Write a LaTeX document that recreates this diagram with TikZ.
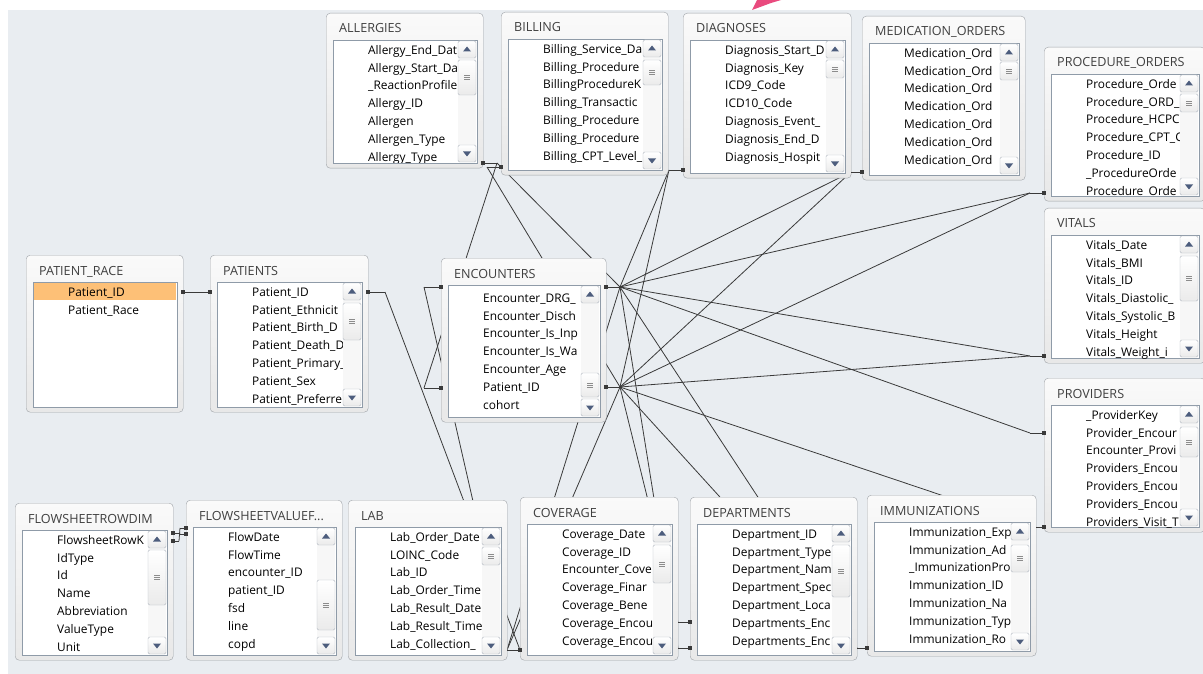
\documentclass[tikz,border=0pt]{standalone}
\usepackage{fontspec}
\setmainfont{Open Sans}
\usetikzlibrary{calc}

\definecolor{canvas}{HTML}{E9EDF1}
\definecolor{frameline}{HTML}{9FA3A8}
\definecolor{listline}{HTML}{8F9BA8}
\definecolor{relline}{HTML}{3A3A3A}
\definecolor{btnline}{HTML}{B3B9C2}
\definecolor{arrowfill}{HTML}{4D5D7D}
\definecolor{pickrow}{HTML}{FDC077}
\definecolor{titletext}{HTML}{404040}
\definecolor{marker}{HTML}{E94A7E}

\tikzset{
  tframe/.style={draw=frameline, rounded corners=4pt, top color=black!2, bottom color=black!9, inner sep=0pt},
  ttitle/.style={text=titletext, font=\fontsize{12.6}{14}\selectfont, inner sep=0pt},
  tfield/.style={text=black, font=\fontsize{11.9}{13}\selectfont, inner sep=0pt},
  tlist/.style={draw=listline, fill=white},
  sbbtn/.style={draw=btnline, rounded corners=1.5pt, top color=white, bottom color=black!8},
  rel/.style={draw=relline, line width=0.8pt},
}

\newcommand{\rowstart}{10}
% table: name, x, y, width, height, title, fields, thumb top, thumb bottom
\newcommand{\dbtable}[9]{%
  \node[tframe, minimum width=#4pt, minimum height=#5pt, anchor=north west] (#1) at (#2,#3) {};
  \node[ttitle, anchor=base west] (#1-title) at (#2+13,#3+20) {#6};
  \coordinate (#1-nw) at (#2+7,#3+27);
  \coordinate (#1-ne) at (#2+#4-6,#3+27);
  \coordinate (#1-se) at (#2+#4-6,#3+#5-5);
  \draw[tlist] (#1-nw) rectangle (#1-se);
  \begin{scope}
    \clip (#1-nw) rectangle ($(#1-se)+(-20,0)$);
    \foreach \f [count=\i from 0] in {#7}{
      \node[tfield, anchor=base west] (#1-f\i) at ($(#1-nw)+(35,\rowstart+4.3+17.8*\i)$) {\f};
    }
  \end{scope}
  \fill[black!3] ($(#1-ne)+(-19,1)$) rectangle ($(#1-se)+(-1,-1)$);
  \draw[sbbtn] ($(#1-ne)+(-19,1)$) rectangle ($(#1-ne)+(-1,18)$);
  \draw[sbbtn] ($(#1-se)+(-19,-18)$) rectangle ($(#1-se)+(-1,-1)$);
  \fill[arrowfill] ($(#1-ne)+(-14,11.5)$) -- ++(8,0) -- ++(-4,-5) -- cycle;
  \fill[arrowfill] ($(#1-se)+(-14,-11.5)$) -- ++(8,0) -- ++(-4,5) -- cycle;
  \draw[sbbtn] ($(#1-ne)+(-19,#8)$) rectangle ($(#1-ne)+(-1,#9)$);
  \foreach \d in {-2,0,2}{
    \draw[black!45, line width=0.5pt] ($(#1-ne)+(-13,{(#8+#9)/2+\d})$) -- ++(6,0);
  }
}
% relationship pin: name, edge x, edge y, stub length
\newcommand{\relpin}[4]{%
  \coordinate (#1-e) at (#2,#3);
  \coordinate (#1) at (#2+#4,#3);
}
\newcommand{\relstub}[1]{%
  \draw[rel] (#1-e) -- (#1);
  \fill[relline] ($(#1-e)+(-1.6,-1.6)$) rectangle ++(3.2,3.2);
}

\begin{document}
\begin{tikzpicture}[x=1pt, y=-1pt]
  \useasboundingbox (0,0) rectangle (1203,674);
  \fill[white] (0,0) rectangle (1203,674);
  \fill[canvas] (8,10) rectangle (1203,674);
  \fill[marker] (752,10) -- (757,0) -- (781,0) -- (771,3) -- cycle;

  % pins
  \relpin{pr-r}{183}{292}{13}
  \relpin{pa-l}{210}{292}{-14}
  \relpin{pa-r}{368}{292}{17}
  \relpin{al-r}{483}{163}{14}
  \relpin{bi-l}{501}{167}{-14}
  \relpin{di-l}{683}{170}{-14}
  \relpin{me-l}{862}{172}{-11}
  \relpin{po-l}{1044}{193}{-14}
  \relpin{vi-l}{1044}{356}{-14}
  \relpin{pv-l1}{1044}{433}{-14}
  \relpin{pv-l2}{1044}{527}{-8}
  \relpin{en-l1}{441}{287}{-17}
  \relpin{en-l2}{441}{388}{-17}
  \relpin{en-r1}{606}{287}{14}
  \relpin{en-r2}{606}{387}{14}
  \relpin{co-l}{520}{650}{-13}
  \relpin{de-l1}{690}{622}{-12}
  \relpin{de-l2}{690}{648}{-12}
  \relpin{im-l}{867}{648}{-10}
  \relpin{fv-l1}{186}{528}{-6}
  \relpin{fv-l2}{186}{534}{-6}
  \relpin{fr-r1}{173}{533}{6}
  \relpin{fr-r2}{173}{541}{6}

  % relationships
  \draw[rel] (pr-r) -- (pa-l);
  \draw[rel] (pa-r) -- (co-l-e);
  \draw[rel] (al-r) -- (en-l2);
  \draw[rel] (al-r) -- (en-r1);
  \draw[rel] (bi-l) -- (en-r2);
  \draw[rel] (en-l1) -- (co-l);
  \foreach \p in {di-l,me-l,po-l,vi-l,im-l,co-l}{
    \draw[rel] (\p) -- (en-r1);
    \draw[rel] (\p) -- (en-r2);
  }
  \draw[rel] (pv-l1) -- (en-r1);
  \draw[rel] (pv-l2) -- (en-r2);
  \draw[rel] (de-l1) -- (en-r2);
  \draw[rel] (de-l2) -- (en-r1);
  \draw[rel] (fr-r1) -- (fv-l2);
  \draw[rel] (fr-r2) -- (fv-l1);

  % tables
  \dbtable{allergies}{326}{13}{157}{155}{ALLERGIES}{Allergy\_End\_Dat,Allergy\_Start\_Da,\_ReactionProfile,Allergy\_ID,Allergen,Allergen\_Type,Allergy\_Type}{20}{55}
  \dbtable{billing}{501}{12}{167}{163}{BILLING}{Billing\_Service\_Da,Billing\_Procedure,BillingProcedureK,Billing\_Transactic,Billing\_Procedure,Billing\_Procedure,Billing\_CPT\_Level\_}{21}{46}
  \dbtable{diagnoses}{683}{13}{168}{165}{DIAGNOSES}{Diagnosis\_Start\_D,Diagnosis\_Key,ICD9\_Code,ICD10\_Code,Diagnosis\_Event\_,Diagnosis\_End\_D,Diagnosis\_Hospit}{20}{38}
  \dbtable{medorders}{862}{16}{163}{164}{MEDICATION\_ORDERS}{Medication\_Ord,Medication\_Ord,Medication\_Ord,Medication\_Ord,Medication\_Ord,Medication\_Ord,Medication\_Ord}{19}{37}
  \dbtable{procorders}{1044}{47}{161}{154}{PROCEDURE\_ORDERS}{Procedure\_Orde,Procedure\_ORD\_,Procedure\_HCPC,Procedure\_CPT\_C,Procedure\_ID,\_ProcedureOrde,Procedure\_Orde}{20}{38}
  \dbtable{vitals}{1044}{208}{161}{155}{VITALS}{Vitals\_Date,Vitals\_BMI,Vitals\_ID,Vitals\_Diastolic\_,Vitals\_Systolic\_B,Vitals\_Height,Vitals\_Weight\_i}{21}{66}
  \dbtable{providers}{1044}{378}{161}{154}{PROVIDERS}{\_ProviderKey,Provider\_Encour,Encounter\_Provi,Providers\_Encou,Providers\_Encou,Providers\_Encou,Providers\_Visit\_T}{22}{52}
  \dbtable{patients}{210}{255}{158}{157}{PATIENTS}{Patient\_ID,Patient\_Ethnicit,Patient\_Birth\_D,Patient\_Death\_D,Patient\_Primary\_,Patient\_Sex,Patient\_Preferre}{21}{58}
  \begin{scope}
    \renewcommand{\rowstart}{13}
    \dbtable{encounters}{441}{258}{165}{164}{ENCOUNTERS}{Encounter\_DRG\_,Encounter\_Disch,Encounter\_Is\_Inp,Encounter\_Is\_Wa,Encounter\_Age,Patient\_ID,cohort}{88}{112}
  \end{scope}
  \dbtable{flowrow}{15}{503}{158}{157}{FLOWSHEETROWDIM}{FlowsheetRowK,IdType,Id,Name,Abbreviation,ValueType,Unit}{20}{75}
  \dbtable{flowval}{186}{500}{156}{160}{FLOWSHEETVALUEF...}{FlowDate,FlowTime,encounter\_ID,patient\_ID,fsd,line,copd}{53}{103}
  \dbtable{lab}{348}{500}{159}{160}{LAB}{Lab\_Order\_Date,LOINC\_Code,Lab\_ID,Lab\_Order\_Time,Lab\_Result\_Date,Lab\_Result\_Time,Lab\_Collection\_}{20}{38}
  \dbtable{coverage}{520}{497}{158}{163}{COVERAGE}{Coverage\_Date,Coverage\_ID,Encounter\_Cove,Coverage\_Finar,Coverage\_Bene,Coverage\_Encou,Coverage\_Encou}{21}{59}
  \dbtable{departments}{690}{497}{167}{163}{DEPARTMENTS}{Department\_ID,Department\_Type,Department\_Nam,Department\_Spec,Department\_Loca,Departments\_Enc,Departments\_Enc}{21}{73}
  \dbtable{immunizations}{867}{495}{169}{161}{IMMUNIZATIONS}{Immunization\_Exp,Immunization\_Ad,\_ImmunizationPro,Immunization\_ID,Immunization\_Na,Immunization\_Typ,Immunization\_Ro}{23}{50}

  % patient race, no scrollbar
  \node[tframe, minimum width=157pt, minimum height=157pt, anchor=north west] (patrace) at (26,255) {};
  \node[ttitle, anchor=base west] (patrace-title) at (39,275) {PATIENT\_RACE};
  \draw[tlist] (33,282) rectangle (177,407);
  \fill[pickrow] (34,283) rectangle (176,300);
  \node[tfield, anchor=base west] (patrace-f0) at (68,296.3) {Patient\_ID};
  \node[tfield, anchor=base west] (patrace-f1) at (68,314.1) {Patient\_Race};

  % stubs
  \foreach \p in {pr-r,pa-l,pa-r,al-r,bi-l,di-l,me-l,po-l,vi-l,pv-l1,pv-l2,en-l1,en-l2,en-r1,en-r2,co-l,de-l1,de-l2,im-l,fv-l1,fv-l2,fr-r1,fr-r2}{
    \relstub{\p}
  }
\end{tikzpicture}
\end{document}
